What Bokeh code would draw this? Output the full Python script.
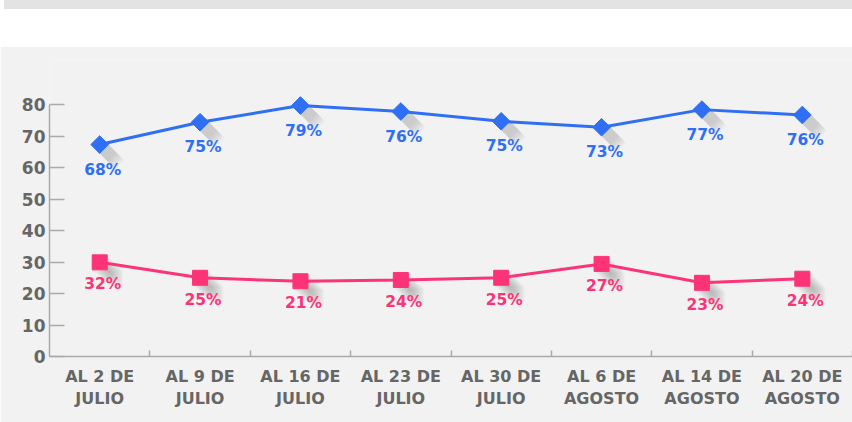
from bokeh.plotting import figure
from bokeh.models import Range1d, FixedTicker, Div
from bokeh.layouts import column
from bokeh.core.properties import value
from bokeh.embed import file_html
from bokeh.resources import INLINE

categories = ["AL 2 DE\nJULIO", "AL 9 DE\nJULIO", "AL 16 DE\nJULIO", "AL 23 DE\nJULIO",
              "AL 30 DE\nJULIO", "AL 6 DE\nAGOSTO", "AL 14 DE\nAGOSTO", "AL 20 DE\nAGOSTO"]
blue_values = [67.3, 74.4, 79.7, 77.8, 74.7, 72.8, 78.4, 76.7]
blue_labels = ["68%", "75%", "79%", "76%", "75%", "73%", "77%", "76%"]
pink_values = [29.9, 25.0, 23.9, 24.3, 25.0, 29.4, 23.4, 24.7]
pink_labels = ["32%", "25%", "21%", "24%", "25%", "27%", "23%", "24%"]
y_ticks = [0, 10, 20, 30, 40, 50, 60, 70, 80]

BLUE = "#2f6ff3"
PINK = "#fc3477"
GREY_TXT = "#666666"
FONT = "DejaVu Sans"

W = 852
H = 376
LEFT = 49
TOP = 14
BOTTOM = 66
Y_MAX = 94

n = len(categories)
xs = [i + 0.5 for i in range(n)]

p = figure(width=W, height=H, output_backend="svg", toolbar_location=None,
           x_range=Range1d(0, n), y_range=Range1d(0, Y_MAX),
           min_border_left=LEFT, min_border_right=0, min_border_top=TOP,
           min_border_bottom=BOTTOM)
p.background_fill_color = "#f2f2f2"
p.border_fill_color = "#f2f2f2"
p.outline_line_color = None
p.xgrid.visible = False
p.ygrid.visible = False

# pixel scale for shadow offsets
ppx = (W - LEFT) / n
ppy = (H - TOP - BOTTOM) / Y_MAX

for k in range(1, 17):
    sx = [x + k / ppx for x in xs]
    p.scatter(sx, [v - k / ppy for v in blue_values], marker="square", size=12.5,
              angle=0.785398, fill_color="#666666", fill_alpha=0.035, line_color=None)
    p.scatter(sx, [v - k / ppy for v in pink_values], marker="square", size=15,
              fill_color="#666666", fill_alpha=0.035, line_color=None)

p.line(xs, blue_values, line_color=BLUE, line_width=3)
p.line(xs, pink_values, line_color=PINK, line_width=3)
p.scatter(xs, blue_values, marker="square", size=12.5, angle=0.785398,
          fill_color=BLUE, line_color=BLUE)
p.scatter(xs, pink_values, marker="square", size=15, fill_color=PINK, line_color=PINK)

p.text(xs, blue_values, text=blue_labels, x_offset=3, y_offset=25,
       text_align="center", text_baseline="middle", text_color=BLUE,
       text_font=value(FONT), text_font_style="bold", text_font_size="15.5px")
p.text(xs, pink_values, text=pink_labels, x_offset=3, y_offset=22,
       text_align="center", text_baseline="middle", text_color=PINK,
       text_font=value(FONT), text_font_style="bold", text_font_size="15.5px")

# y axis
ya = p.yaxis[0]
ya.ticker = FixedTicker(ticks=y_ticks)
ya.bounds = (0, 80)
ya.axis_line_color = "#aaaaaa"
ya.axis_line_width = 1.5
ya.major_tick_in = 15
ya.major_tick_out = 0
ya.major_tick_line_color = "#aaaaaa"
ya.major_tick_line_width = 1.5
ya.minor_tick_line_color = None
ya.major_label_standoff = 4
ya.major_label_text_font = FONT
ya.major_label_text_font_style = "bold"
ya.major_label_text_font_size = "17px"
ya.major_label_text_color = GREY_TXT

# x axis: labels at category centres, ticks at boundaries
xa = p.xaxis[0]
xa.ticker = FixedTicker(ticks=xs, minor_ticks=list(range(1, n + 1)))
xa.major_label_overrides = {x: c for x, c in zip(xs, categories)}
xa.axis_line_color = "#aaaaaa"
xa.axis_line_width = 1.5
xa.major_tick_in = 0
xa.major_tick_out = 0
xa.minor_tick_in = 6
xa.minor_tick_out = 0
xa.minor_tick_line_color = "#aaaaaa"
xa.minor_tick_line_width = 1.5
xa.major_label_standoff = 10
xa.major_label_text_font = FONT
xa.major_label_text_font_style = "bold"
xa.major_label_text_font_size = "16px"
xa.major_label_text_color = GREY_TXT

top = Div(text='<div style="position:absolute;left:4px;top:0px;width:848px;height:9px;'
               'background:#e3e3e3"></div>',
          width=W, height=46, margin=0, styles={"background-color": "white"})

layout = column(top, p, spacing=0)
open("out.html", "w").write(file_html(layout, INLINE))
